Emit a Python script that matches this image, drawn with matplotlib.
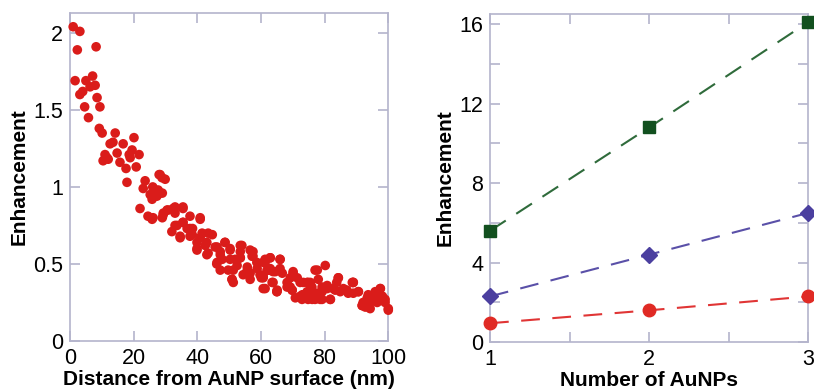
import matplotlib.pyplot as plt
from matplotlib.ticker import MultipleLocator

plt.rcParams['font.family'] = ['Liberation Sans', 'DejaVu Sans']

# ===============================
# Data
# ===============================

# left panel: enhancement vs distance (nm)
dist = [1.0, 3.1, 2.3, 8.2, 1.6, 5.0, 7.1, 6.3, 7.9, 3.1, 4.0, 8.5, 4.6, 9.4, 5.8,
        9.2, 10.1, 14.2, 12.6, 13.5, 16.7, 20.1, 11.0, 11.6, 14.8, 19.5, 18.6, 10.4,
        12.0, 15.7, 18.9, 21.7, 17.6, 20.8, 17.9, 23.6, 23.0, 28.9, 28.0, 26.1, 27.7,
        25.2, 29.0, 27.3, 26.0, 22.0, 24.5, 25.8, 29.0, 29.3, 30.8, 32.4, 35.5, 33.0,
        33.6, 32.0, 34.6, 36.8, 37.7, 40.9, 39.9, 41.5, 43.0, 44.7, 46.2, 47.2, 47.8,
        48.7, 49.7, 38.5, 35.5, 37.7, 50.3, 54.0, 53.5, 57.5, 57.2, 51.9, 52.5, 55.7,
        50.9, 54.4, 56.6, 59.7, 60.7, 62.9, 66.0, 62.9, 63.8, 66.7, 60.7, 63.8, 65.0,
        68.2, 69.2, 70.1, 69.8, 72.3, 72.3, 74.5, 74.8, 77.0, 75.5, 73.3, 74.5, 77.7,
        77.0, 79.2, 79.2, 80.8, 81.8, 82.7, 84.3, 84.9, 87.0, 88.7, 89.0, 90.6, 91.8,
        92.8, 93.7, 95.0, 96.5, 97.5, 98.1, 99.0, 100.0,
        39.9, 43.0, 46.1, 47.2, 51.3, 53.5, 56.0, 58.7, 60.7, 62.9, 66.0, 65.0, 69.2,
        70.1, 72.9, 76.0, 78.6, 80.2, 83.8, 89.0, 92.1, 94.3,
        28.3, 29.9, 26.7, 28.3, 25.8, 30.5, 33.0, 35.5, 29.3, 26.1, 33.0, 35.5, 37.7,
        40.9, 34.6, 38.4, 40.9, 43.4, 39.9, 42.5, 45.6, 48.7, 43.4, 47.2, 50.3, 53.5,
        46.2, 50.3, 53.5, 56.6, 57.5, 51.3, 55.7, 58.8, 61.3, 50.9, 56.6, 60.7, 62.3,
        61.3, 62.9, 66.0, 61.9, 64.5, 60.1, 63.5, 65.1, 61.3, 68.2, 70.1, 71.4, 69.8,
        70.8, 73.0, 74.8, 75.5, 76.1, 77.7, 78.0, 79.2, 80.8, 81.8, 83.3, 84.3, 85.9,
        87.4, 89.0, 90.6, 91.8, 93.4, 94.3, 95.9, 97.5, 96.5, 98.1, 99.0, 100.0, 92.8,
        94.3]
enh = [2.04, 2.01, 1.89, 1.91, 1.69, 1.69, 1.72, 1.65, 1.66, 1.60, 1.62, 1.58, 1.52, 1.52, 1.45,
       1.38, 1.35, 1.35, 1.28, 1.29, 1.28, 1.32, 1.21, 1.19, 1.22, 1.24, 1.21, 1.17,
       1.18, 1.16, 1.19, 1.21, 1.12, 1.13, 1.03, 1.04, 0.99, 1.06, 1.08, 0.97, 0.98,
       0.95, 0.96, 0.94, 1.00, 0.86, 0.81, 0.79, 0.80, 0.83, 0.85, 0.86, 0.87, 0.83,
       0.75, 0.71, 0.67, 0.73, 0.68, 0.79, 0.64, 0.70, 0.64, 0.69, 0.61, 0.58, 0.53,
       0.64, 0.46, 0.73, 0.77, 0.81, 0.60, 0.62, 0.58, 0.58, 0.55, 0.53, 0.49, 0.48,
       0.40, 0.43, 0.44, 0.43, 0.51, 0.54, 0.53, 0.46, 0.45, 0.44, 0.34, 0.38, 0.32,
       0.35, 0.41, 0.45, 0.33, 0.38, 0.29, 0.38, 0.27, 0.46, 0.38, 0.38, 0.32, 0.31,
       0.27, 0.27, 0.35, 0.34, 0.27, 0.34, 0.41, 0.32, 0.33, 0.38, 0.31, 0.32, 0.23,
       0.25, 0.30, 0.28, 0.25, 0.34, 0.29, 0.27, 0.20,
       0.59, 0.56, 0.50, 0.46, 0.38, 0.54, 0.44, 0.51, 0.41, 0.47, 0.47, 0.32, 0.35,
       0.42, 0.27, 0.35, 0.27, 0.49, 0.38, 0.38, 0.25, 0.29,
       1.08, 1.05, 0.98, 0.96, 0.92, 0.85, 0.87, 0.86, 0.82, 0.80, 0.75, 0.77, 0.73,
       0.80, 0.68, 0.69, 0.67, 0.70, 0.60, 0.62, 0.61, 0.64, 0.57, 0.56, 0.59, 0.62,
       0.51, 0.53, 0.54, 0.59, 0.55, 0.46, 0.46, 0.47, 0.53, 0.40, 0.40, 0.42, 0.46,
       0.51, 0.54, 0.53, 0.46, 0.45, 0.41, 0.38, 0.33, 0.34, 0.38, 0.44, 0.41, 0.33,
       0.28, 0.30, 0.38, 0.32, 0.27, 0.46, 0.40, 0.32, 0.36, 0.27, 0.33, 0.41, 0.34,
       0.31, 0.38, 0.32, 0.23, 0.28, 0.25, 0.32, 0.34, 0.27, 0.29, 0.25, 0.21, 0.22,
       0.21]

# right panel: enhancement vs number of AuNPs
n_np = [1, 2, 3]
enh_green = [5.6, 10.8, 16.1]
enh_blue = [2.3, 4.4, 6.5]
enh_red = [0.95, 1.6, 2.3]

# ===============================
# Figure
# ===============================

fig = plt.figure(figsize=(8.14, 3.91), dpi=100)
spine_c = '#b4b4cc'

ax1 = fig.add_axes([0.086, 0.128, 0.391, 0.839])
ax2 = fig.add_axes([0.602, 0.125, 0.391, 0.839])

for ax in (ax1, ax2):
    for s in ax.spines.values():
        s.set_color(spine_c)
        s.set_linewidth(1.2)
    ax.tick_params(which='both', direction='in', top=True, right=True,
                   color=spine_c, width=1.2, length=7, labelsize=15.5, pad=5)

# left scatter
ax1.scatter(dist, enh, s=48, color='#da1c1a', edgecolors='none', zorder=3,
            clip_on=False)
ax1.set_xlim(0, 100)
ax1.set_ylim(0, 2.13)
ax1.xaxis.set_major_locator(MultipleLocator(20))
ax1.set_yticks([0, 0.5, 1, 1.5, 2])
ax1.set_yticklabels(['0', '0.5', '1', '1.5', '2'])
ax1.set_xlabel('Distance from AuNP surface (nm)', fontsize=15, fontweight='bold',
               labelpad=1)
ax1.set_ylabel('Enhancement', fontsize=15, fontweight='bold', labelpad=3)

# right lines
dash = (9, 6)
ax2.plot(n_np, enh_green, color='#2f6b3b', lw=1.5, dashes=dash, zorder=2)
ax2.plot(n_np, enh_green, 's', color='#12501f', ms=9, zorder=3, clip_on=False)
ax2.plot(n_np, enh_blue, color='#5a50a8', lw=1.5, dashes=dash, zorder=2)
ax2.plot(n_np, enh_blue, 'D', color='#4b3f9f', ms=8, zorder=3, clip_on=False)
ax2.plot(n_np, enh_red, color='#e03535', lw=1.5, dashes=dash, zorder=2)
ax2.plot(n_np, enh_red, 'o', color='#e02a24', ms=9, zorder=3, clip_on=False)
ax2.set_xlim(1, 3)
ax2.set_ylim(0, 16.5)
ax2.set_xticks([1, 2, 3])
ax2.xaxis.set_minor_locator(MultipleLocator(0.5))
ax2.set_yticks([0, 4, 8, 12, 16])
ax2.yaxis.set_minor_locator(MultipleLocator(2))
ax2.set_xlabel('Number of AuNPs', fontsize=15, fontweight='bold', labelpad=1)
ax2.set_ylabel('Enhancement', fontsize=15, fontweight='bold', labelpad=3)

fig.savefig('out.png', dpi=100)
